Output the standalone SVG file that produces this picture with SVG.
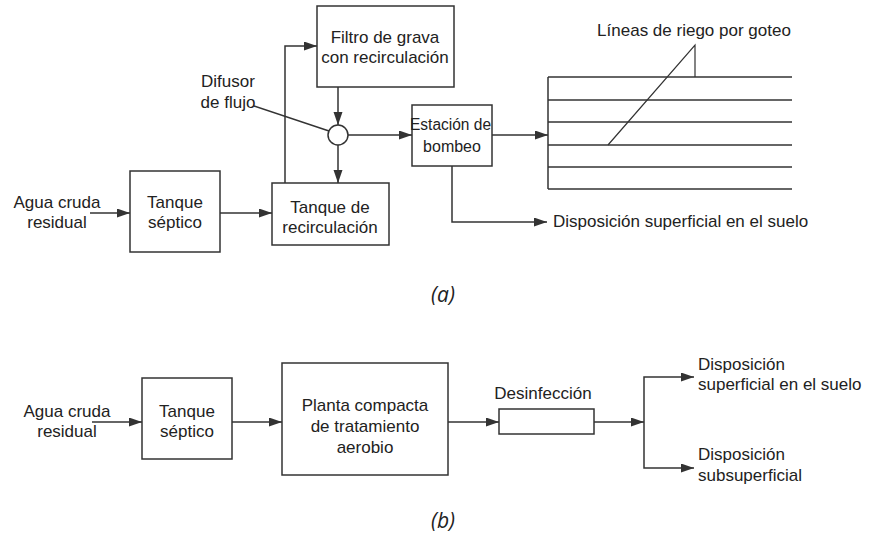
<svg xmlns="http://www.w3.org/2000/svg" width="869" height="535" viewBox="0 0 869 535">
<defs>
<marker id="ah" markerUnits="userSpaceOnUse" markerWidth="14" markerHeight="10" refX="13" refY="4.5" orient="auto">
<path d="M0,0 L13,4.5 L0,9 z" fill="#333"/>
</marker>
<style>
.b{fill:#fff;stroke:#333;stroke-width:1.5}
.c{fill:none;stroke:#333;stroke-width:1.5}
.a{marker-end:url(#ah)}
text{font-family:"Liberation Sans",Arial,sans-serif;font-size:17px;fill:#222}
.m{text-anchor:middle}
.lbl{font-family:"Open Sans","DejaVu Sans",sans-serif;font-style:italic;font-size:21px}
</style>
</defs>
<rect width="869" height="535" fill="#fff"/>

<g id="connectors">
<!-- (a) -->
<line class="c a" x1="90" y1="213" x2="130" y2="213"/>
<line class="c a" x1="220" y1="213" x2="272" y2="213"/>
<polyline class="c a" points="285,183 285,46 317,46"/>
<line class="c a" x1="338" y1="87" x2="338" y2="125"/>
<line class="c a" x1="338" y1="145" x2="338" y2="183"/>
<line class="c a" x1="348" y1="135" x2="412" y2="135"/>
<line class="c a" x1="492" y1="135" x2="548" y2="135"/>
<polyline class="c a" points="452,166 452,222 547,222"/>
<line class="c" x1="254" y1="106" x2="329" y2="131"/>
<!-- drip lines -->
<line class="c" x1="548" y1="77" x2="548" y2="189"/>
<line class="c" x1="548" y1="77" x2="792" y2="77"/>
<line class="c" x1="548" y1="100" x2="792" y2="100"/>
<line class="c" x1="548" y1="122" x2="792" y2="122"/>
<line class="c" x1="548" y1="145" x2="792" y2="145"/>
<line class="c" x1="548" y1="167" x2="792" y2="167"/>
<line class="c" x1="548" y1="189" x2="792" y2="189"/>
<polyline class="c" points="695,77 695,45 608,145" style="stroke-width:1.2"/>
<!-- (b) -->
<line class="c a" x1="92" y1="422" x2="142" y2="422"/>
<line class="c a" x1="232" y1="422" x2="282" y2="422"/>
<line class="c a" x1="448" y1="422" x2="499" y2="422"/>
<line class="c a" x1="594" y1="422" x2="644" y2="422"/>
<polyline class="c a" points="644,422 644,377 694,377"/>
<polyline class="c a" points="644,422 644,468 694,468"/>
</g>

<!-- Diagram (a) -->
<g id="a-input">
<text class="m" x="57" y="208">Agua cruda</text>
<text class="m" x="57" y="228">residual</text>
</g>
<g id="a-tanque-septico">
<rect class="b" x="130" y="171" width="90" height="81"/>
<text class="m" x="175" y="208">Tanque</text>
<text class="m" x="175" y="228">séptico</text>
</g>
<g id="a-tanque-recirculacion">
<rect class="b" x="272" y="183" width="117" height="62"/>
<text class="m" x="330" y="213">Tanque de</text>
<text class="m" x="330" y="233">recirculación</text>
</g>
<g id="a-filtro">
<rect class="b" x="317" y="6" width="137" height="81"/>
<text class="m" x="385" y="43">Filtro de grava</text>
<text class="m" x="385" y="63">con recirculación</text>
</g>
<g id="a-difusor">
<circle class="b" cx="338" cy="135" r="10"/>
<text class="m" x="228" y="87">Difusor</text>
<text class="m" x="228" y="108">de flujo</text>
</g>
<g id="a-estacion">
<rect class="b" x="412" y="105" width="80" height="61"/>
<text x="410" y="130" textLength="81" lengthAdjust="spacingAndGlyphs" style="font-size:16px">Estación de</text>
<text class="m" x="452" y="152" style="font-size:16px">bombeo</text>
</g>
<g id="a-lineas">
<text class="m" x="694" y="36">Líneas de riego por goteo</text>
</g>
<g id="a-disposicion">
<text x="553" y="227">Disposición superficial en el suelo</text>
</g>
<text class="lbl m" x="443" y="302">(a)</text>

<!-- Diagram (b) -->
<g id="b-input">
<text class="m" x="67" y="417">Agua cruda</text>
<text class="m" x="67" y="437">residual</text>
</g>
<g id="b-tanque-septico">
<rect class="b" x="142" y="378" width="90" height="81"/>
<text class="m" x="187" y="417">Tanque</text>
<text class="m" x="187" y="437">séptico</text>
</g>
<g id="b-planta">
<rect class="b" x="282" y="363" width="166" height="112"/>
<text class="m" x="365" y="411">Planta compacta</text>
<text class="m" x="365" y="432">de tratamiento</text>
<text class="m" x="365" y="453">aerobio</text>
</g>
<g id="b-desinfeccion">
<rect class="b" x="499" y="409" width="95" height="25"/>
<text class="m" x="543" y="399">Desinfección</text>
</g>
<g id="b-superficial">
<text x="698" y="370">Disposición</text>
<text x="698" y="390">superficial en el suelo</text>
</g>
<g id="b-subsuperficial">
<text x="698" y="460">Disposición</text>
<text x="698" y="481">subsuperficial</text>
</g>
<text class="lbl m" x="443" y="528">(b)</text>
</svg>
